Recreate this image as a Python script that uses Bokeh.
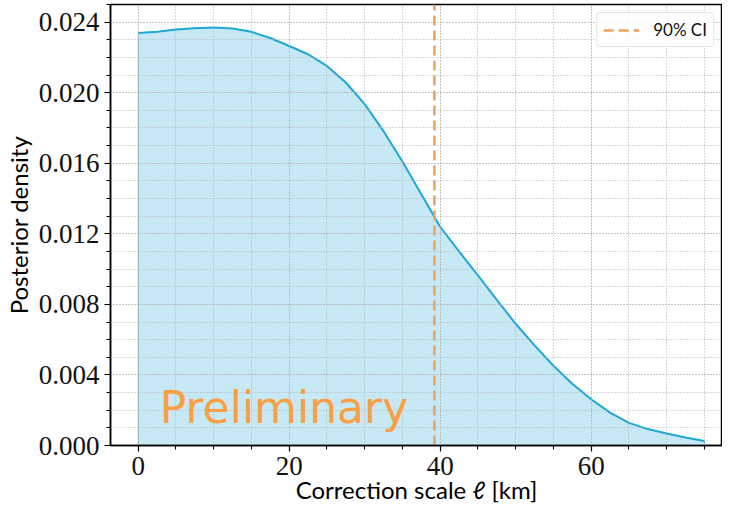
from bokeh.plotting import figure
from bokeh.models import Range1d, FixedTicker, Label
from bokeh.embed import file_html
from bokeh.resources import INLINE

# ---- data ----
scale_km = [0, 2.5, 5, 7.5, 10, 12.5, 15, 17.5, 20, 22.5, 25, 27.5, 30, 32.5, 35,
            37.5, 40, 42.5, 45, 47.5, 50, 52.5, 55, 57.5, 60, 62.5, 65, 67.5, 70,
            72.5, 75]
density = [0.02339, 0.02346, 0.02358, 0.02366, 0.02369, 0.02364, 0.02345, 0.02310,
           0.02265, 0.02218, 0.02152, 0.02058, 0.01935, 0.01782, 0.01610, 0.01425,
           0.01240, 0.01100, 0.00964, 0.00825, 0.00690, 0.00568, 0.00452, 0.00350,
           0.00262, 0.00186, 0.00128, 0.00093, 0.00068, 0.00045, 0.00025]
ci90 = 39.24
ci_label = "90% CI"

x_major = [0, 20, 40, 60]
x_minor = [-5, 0, 5, 10, 15, 20, 25, 30, 35, 40, 45, 50, 55, 60, 65, 70, 75, 80]
y_major = [0.000, 0.004, 0.008, 0.012, 0.016, 0.020, 0.024]
y_labels = ["0.000", "0.004", "0.008", "0.012", "0.016", "0.020", "0.024"]
y_minor = [i / 1000 for i in range(0, 26)]

x_title = "Correction scale ℓ [km]"
y_title = "Posterior density"
watermark = "Preliminary"

LINE = "#1ea8d6"
ORANGE = "#eda35a"
SERIF = "'Liberation Serif'"

x_lo, x_hi = -3.67, 77.4
y_lo, y_hi = 0.0, 0.025

p = figure(width=722, height=512, output_backend="svg", toolbar_location=None,
           x_range=Range1d(x_lo, x_hi), y_range=Range1d(y_lo, y_hi),
           min_border_left=106, min_border_right=0, min_border_top=4,
           min_border_bottom=67)

p.background_fill_color = "white"
p.border_fill_color = "white"
p.outline_line_color = "black"
p.outline_line_width = 1.5

# filled density
px = [scale_km[0]] + scale_km + [scale_km[-1]]
py = [0.0] + density + [0.0]
p.patch(px, py, fill_color=LINE, fill_alpha=0.25, line_color=LINE,
        line_alpha=0.6, line_width=1)
p.line(scale_km, density, line_color=LINE, line_width=2, line_join="round")

# 90% CI line
p.line([ci90, ci90], [y_lo, y_hi], line_color=ORANGE, line_width=2.5,
       line_dash="10 5", legend_label=ci_label)

# watermark
p.add_layout(Label(x=2.85, y=0.00214, text=watermark, text_font="'DejaVu Sans'",
                   text_font_size="44px", text_color="#fa9f42",
                   text_baseline="alphabetic", text_align="left"))

# axes
p.xaxis.ticker = FixedTicker(ticks=x_major, minor_ticks=x_minor)
p.yaxis.ticker = FixedTicker(ticks=y_major, minor_ticks=y_minor)
p.yaxis.major_label_overrides = {v: s for v, s in zip(y_major, y_labels)}

for ax in (p.xaxis, p.yaxis):
    ax.axis_line_color = "black"
    ax.axis_line_width = 1.5
    ax.major_tick_line_color = "black"
    ax.minor_tick_line_color = "black"
    ax.major_tick_line_width = 1.2
    ax.minor_tick_line_width = 1
    ax.major_tick_in = 0
    ax.major_tick_out = 6
    ax.minor_tick_in = 0
    ax.minor_tick_out = 4
    ax.major_label_text_font = SERIF
    ax.major_label_text_font_size = "27px"
    ax.major_label_text_color = "#111111"
    ax.axis_label_text_font = "Lato"
    ax.axis_label_text_font_size = "24px"
    ax.axis_label_text_font_style = "normal"
    ax.axis_label_text_color = "black"

p.xaxis.axis_label = x_title
p.yaxis.axis_label = y_title
p.xaxis.major_label_standoff = 5
p.xaxis.axis_label_standoff = -3
p.yaxis.major_label_standoff = 5
p.yaxis.axis_label_standoff = 3

# grids
for g in (p.xgrid, p.ygrid):
    g.grid_line_color = "#b0b0b0"
    g.grid_line_dash = "1 2"
    g.grid_line_width = 1
    g.minor_grid_line_color = "#b0b0b0"
    g.minor_grid_line_dash = "1 2"
    g.minor_grid_line_width = 1
    g.level = "glyph"

# legend
lg = p.legend[0]
lg.location = "top_right"
lg.margin = 8
lg.padding = 6
lg.glyph_width = 36
lg.glyph_height = 18
lg.label_standoff = 14
lg.label_text_font = "Lato"
lg.label_text_font_size = "17px"
lg.label_text_color = "#111111"
lg.border_line_color = "#cccccc"
lg.border_line_width = 1.5
lg.border_radius = 4
lg.background_fill_alpha = 0.85

open("out.html", "w").write(file_html(p, INLINE))
